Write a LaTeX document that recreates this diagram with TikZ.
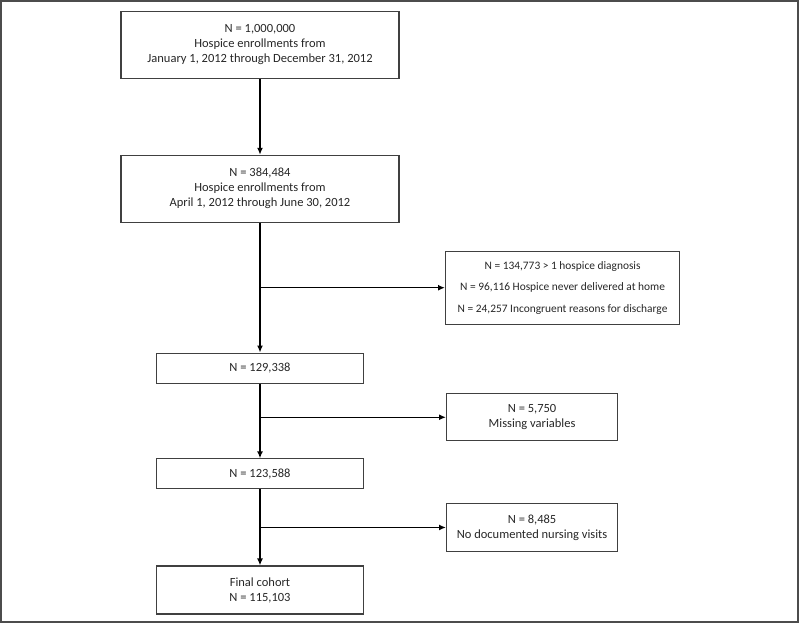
\documentclass[tikz,border=0pt]{standalone}
\usepackage{fontspec}
\setmainfont{Carlito}
\usetikzlibrary{arrows.meta,positioning,calc}

\begin{document}
\begin{tikzpicture}[
    flowbox/.style={rectangle, draw=black!75, line width=1.1pt, align=center, inner sep=0pt, text=black!85, font=\fontsize{12.5}{15}\selectfont},
    bigbox/.style={flowbox, minimum width=278pt, minimum height=67pt},
    smallbox/.style={flowbox, minimum width=207pt, minimum height=30pt},
    cohortbox/.style={smallbox, minimum height=48pt},
    exclbox/.style={flowbox, minimum width=234pt, minimum height=73pt, font=\fontsize{11.4}{14}\selectfont},
    sidebox/.style={flowbox, minimum width=171pt, minimum height=47pt},
    flowline/.style={-{Latex[length=7pt,width=6pt]}},
    line width=1.4pt, black
    ]

    \useasboundingbox (0pt,0pt) rectangle (800pt,-623pt);
    \draw[black!70, line width=2pt] (1pt,-1pt) rectangle (797.5pt,-621.5pt);

    %Nodes
    \node[bigbox]    (enroll_year)  at (260pt,-45pt)               {N = 1,000,000\\Hospice enrollments from\\January 1, 2012 through December 31, 2012};
    \node[bigbox]    (enroll_q2)    [below=75.7pt of enroll_year]  {N = 384,484\\Hospice enrollments from\\April 1, 2012 through June 30, 2012};
    \node[smallbox]  (n_eligible)   [below=129.7pt of enroll_q2]   {N = 129,338};
    \node[smallbox]  (n_complete)   [below=74.7pt of n_eligible]   {N = 123,588};
    \node[cohortbox] (final_cohort) [below=76pt of n_complete]     {Final cohort\\N = 115,103};

    \coordinate (split1) at ($(enroll_q2.south)!0.5!(n_eligible.north)$);
    \coordinate (split2) at ($(n_eligible.south)!0.45!(n_complete.north)$);
    \coordinate (split3) at ($(n_complete.south)!0.5!(final_cohort.north)$);

    \node[exclbox]   (excl_diag)    [right=185pt of split1]        {N = 134,773 > 1 hospice diagnosis\\[7.5pt]N = 96,116 Hospice never delivered at home\\[7.5pt]N = 24,257 Incongruent reasons for discharge};
    \node[sidebox]   (excl_missing) [right=186pt of split2]        {N = 5,750\\Missing variables};
    \node[sidebox]   (excl_visits)  [right=186pt of split3, minimum height=48pt] {N = 8,485\\No documented nursing visits};

    %Lines
    \draw[flowline] (enroll_year.south) -- (enroll_q2.north);
    \draw[flowline] (enroll_q2.south)   -- (n_eligible.north);
    \draw[flowline] (n_eligible.south)  -- (n_complete.north);
    \draw[flowline] (n_complete.south)  -- (final_cohort.north);
    \draw[flowline] (split1)            -- (excl_diag.west);
    \draw[flowline] (split2)            -- (excl_missing.west);
    \draw[flowline] (split3)            -- (excl_visits.west);
\end{tikzpicture}
\end{document}
